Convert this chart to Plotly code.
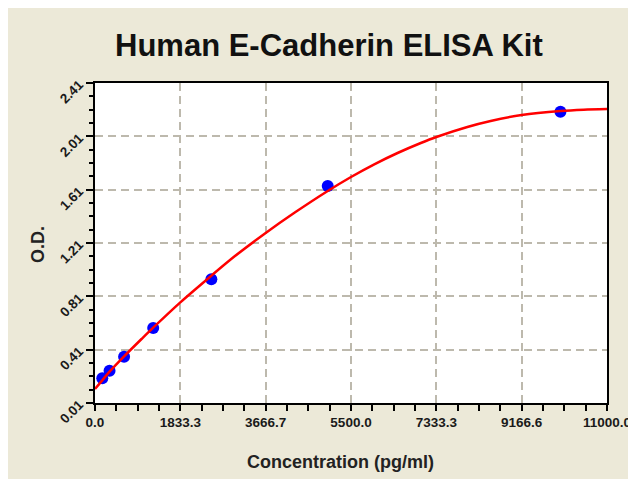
import plotly.graph_objects as go

# Standard points (concentration pg/ml, O.D.)
std_conc = [156.25, 312.5, 625, 1250, 2500, 5000, 10000]
std_od = [0.195, 0.252, 0.357, 0.572, 0.938, 1.637, 2.195]

# Fitted curve, values
curve_conc = [0, 156.25, 312.5, 625, 1000, 1250, 1833.3, 2500, 3000, 3666.7, 4300,
              5000, 5500, 6000, 6500, 7000, 7333.3, 8000, 8500, 9166.6, 10000, 10500, 11000]
curve_od = [0.115, 0.18, 0.245, 0.36, 0.49, 0.575, 0.765, 0.965, 1.11, 1.285, 1.44,
            1.60, 1.705, 1.80, 1.885, 1.96, 2.005, 2.08, 2.125, 2.17, 2.20, 2.21, 2.215]

x_tickvals = [0, 1833.33, 3666.67, 5500, 7333.33, 9166.67, 11000]
x_ticktext = ["0.0", "1833.3", "3666.7", "5500.0", "7333.3", "9166.6", "11000.0"]
y_tickvals = [0.01, 0.41, 0.81, 1.21, 1.61, 2.01, 2.41]
y_ticktext = ["0.01", "0.41", "0.81", "1.21", "1.61", "2.01", "2.41"]

BEIGE = "#ECE9D8"
GRID = "#BDB9AD"
FONT = "Liberation Sans, Arial, sans-serif"

fig = go.Figure()
fig.add_trace(go.Scatter(x=std_conc, y=std_od, mode="markers",
                         marker=dict(color="#0000FF", size=12, line=dict(width=0)),
                         showlegend=False, cliponaxis=False))
fig.add_trace(go.Scatter(x=curve_conc, y=curve_od, mode="lines",
                         line=dict(color="#FF0000", width=2.5, shape="spline", smoothing=0.8),
                         showlegend=False))

axis_common = dict(showline=True, linecolor="black", linewidth=2, mirror=True,
                   ticks="outside", tickcolor="black", tickwidth=1.5,
                   showgrid=True, gridcolor=GRID, gridwidth=1.5, griddash="8px,5px",
                   zeroline=False,
                   tickfont=dict(family=FONT, size=13.5, color="#1a1a1a", weight="bold"))

fig.update_xaxes(range=[0, 11000], tickmode="array", tickvals=x_tickvals, ticktext=x_ticktext,
                 ticklen=6, tickangle=0,
                 minor=dict(dtick=458.333, tick0=0, ticks="outside", ticklen=6,
                            tickcolor="black", tickwidth=1.5, showgrid=False),
                 **axis_common)
fig.update_yaxes(range=[0.01, 2.41], tickmode="array", tickvals=y_tickvals, ticktext=y_ticktext,
                 ticklen=7, tickangle=-45, ticklabelstandoff=4,
                 minor=dict(dtick=0.1, tick0=0.01, ticks="outside", ticklen=4,
                            tickcolor="black", tickwidth=1.5, showgrid=False),
                 **axis_common)

# page offset (body margin) is 8px
OFF = 8
W, H = 628, 471
L, R, T, B = 87, 29, 75, 76
pw, ph = W - L - R, H - T - B

def px(x):
    return (x - OFF - L) / pw

def py(y):
    return (H - B - (y - OFF)) / ph

fig.update_layout(
    width=W, height=H,
    margin=dict(l=L, r=R, t=T, b=B, autoexpand=False),
    paper_bgcolor=BEIGE, plot_bgcolor="white",
    annotations=[
        dict(text="<b>Human E-Cadherin ELISA Kit</b>", xref="paper", yref="paper",
             x=px(329), y=py(45), xanchor="center", yanchor="middle", showarrow=False,
             font=dict(family=FONT, size=31, color="#111111")),
        dict(text="<b>O.D.</b>", xref="paper", yref="paper", textangle=-90,
             x=px(38), y=py(245), xanchor="center", yanchor="middle", showarrow=False,
             font=dict(family=FONT, size=18, color="#222222")),
        dict(text="<b>Concentration (pg/ml)</b>", xref="paper", yref="paper",
             x=px(340), y=py(462), xanchor="center", yanchor="middle", showarrow=False,
             font=dict(family=FONT, size=18, color="#222222")),
    ],
)

fig.write_html("out.html")
